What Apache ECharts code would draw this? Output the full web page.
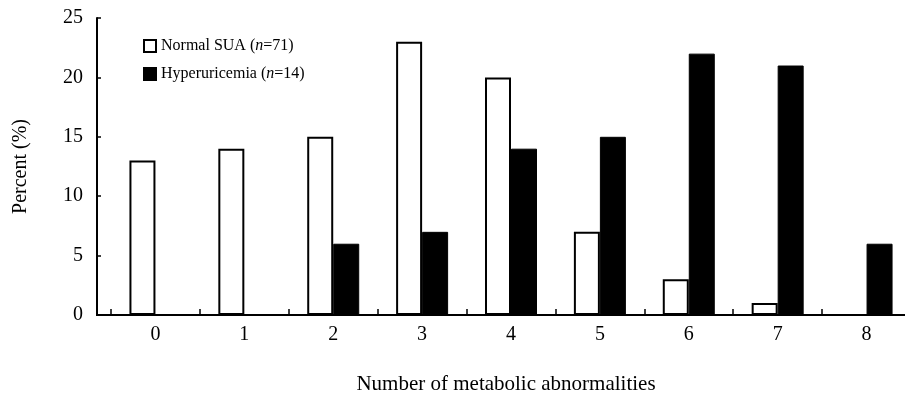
<!DOCTYPE html>
<html>
<head>
<meta charset="utf-8">
<script src="https://cdn.jsdelivr.net/npm/echarts@6/dist/echarts.min.js"></script>
<style>html,body{margin:0;padding:0;background:#fff;}#c{width:905px;height:393px;}</style>
</head>
<body>
<div id="c"></div>
<script>
const categories = ['0','1','2','3','4','5','6','7','8'];
const normalSUA = [13, 14, 15, 23, 20, 7, 3, 1, 0];
const hyperuricemia = [0, 0, 6, 7, 14, 15, 22, 21, 6];
const yTicks = [0, 5, 10, 15, 20, 25];

const FONT = '"Liberation Serif", "Times New Roman", serif';
const chart = echarts.init(document.getElementById('c'));

function legendFmt(name) {
  const m = name.match(/^(.*)\((n)(=\d+)\)$/);
  if (!m) return name;
  return '{a|' + m[1] + '(}{i|n}{a|' + m[3] + ')}';
}

chart.setOption({
  animation: false,
  backgroundColor: '#fff',
  title: {
    text: 'Number of metabolic abnormalities',
    left: 501, top: 369, textAlign: 'center',
    textStyle: { fontFamily: FONT, fontSize: 21, fontWeight: 'normal', color: '#000' }
  },
  legend: {
    orient: 'vertical',
    left: 138, top: 33,
    itemWidth: 12, itemHeight: 12, itemGap: 12,
    icon: 'rect',
    formatter: legendFmt,
    textStyle: {
      fontFamily: FONT, fontSize: 16, color: '#000',
      rich: {
        a: { fontFamily: FONT, fontSize: 16, color: '#000' },
        i: { fontFamily: FONT, fontSize: 16, color: '#000', fontStyle: 'italic' }
      }
    },
    data: ['Normal SUA (n=71)', 'Hyperuricemia (n=14)']
  },
  grid: { left: 111, top: 18, width: 800, bottom: 78, containLabel: false, outerBoundsMode: 'none' },
  xAxis: {
    type: 'category',
    data: categories,
    boundaryGap: true,
    axisLine: { lineStyle: { color: '#000', width: 2 } },
    axisTick: { show: true, interval: 0, inside: true, length: 6, alignWithLabel: false, lineStyle: { color: '#000', width: 1.5 } },
    axisLabel: { fontFamily: FONT, fontSize: 20, color: '#000', margin: 10 },
    splitLine: { show: false }
  },
  yAxis: {
    type: 'value',
    min: 0, max: 25, interval: 5,
    offset: 14,
    name: 'Percent (%)',
    nameLocation: 'middle',
    nameGap: 66,
    nameRotate: 90,
    nameTextStyle: { fontFamily: FONT, fontSize: 20, color: '#000' },
    axisLine: { show: true, lineStyle: { color: '#000', width: 2 } },
    axisTick: { show: true, inside: true, length: 4, lineStyle: { color: '#000', width: 1.5 } },
    axisLabel: { fontFamily: FONT, fontSize: 20, color: '#000', margin: 14,
      formatter: v => yTicks.includes(v) ? String(v) : '' },
    splitLine: { show: false }
  },
  graphic: [{
    type: 'line',
    shape: { x1: 96, y1: 315, x2: 112, y2: 315 },
    style: { stroke: '#000', lineWidth: 2 }
  }],
  series: [
    {
      name: 'Normal SUA (n=71)',
      type: 'bar',
      data: normalSUA,
      barWidth: 26,
      barGap: '0%',
      itemStyle: { color: '#fff', borderColor: '#000', borderWidth: 2 }
    },
    {
      name: 'Hyperuricemia (n=14)',
      type: 'bar',
      data: hyperuricemia,
      barWidth: 26,
      barGap: '0%',
      itemStyle: { color: '#000', borderColor: '#000', borderWidth: 1 }
    }
  ]
});
</script>
</body>
</html>
